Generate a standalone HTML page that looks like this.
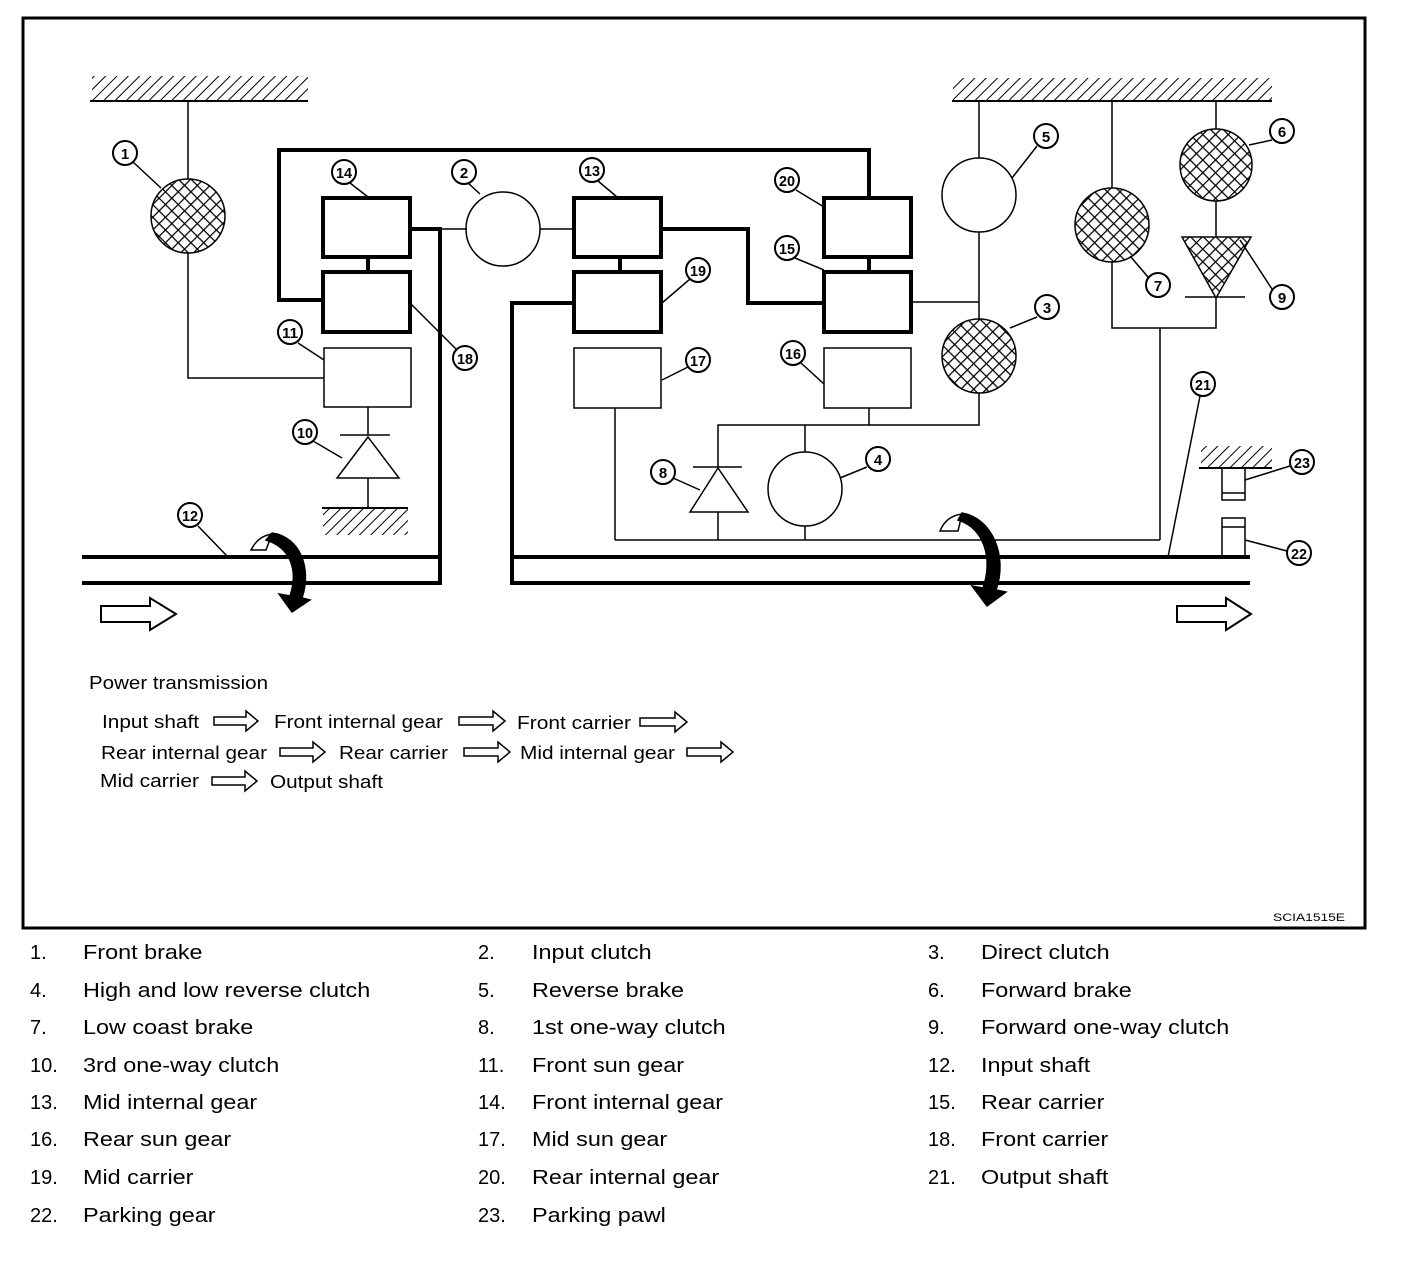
<!DOCTYPE html>
<html><head><meta charset="utf-8"><style>
html,body{margin:0;padding:0;background:#fff}
svg{display:block}
text{font-family:"Liberation Sans",sans-serif;fill:#000}
.lb{font-weight:bold;font-size:15px;text-anchor:middle}
</style></head><body>
<svg width="1408" height="1282" viewBox="0 0 1408 1282" xmlns="http://www.w3.org/2000/svg">
<defs>
<pattern id="hatch" width="8" height="8" patternUnits="userSpaceOnUse" patternTransform="rotate(45)">
<line x1="0" y1="0" x2="0" y2="8" stroke="#000" stroke-width="2"/></pattern>
<pattern id="cross" width="9" height="9" patternUnits="userSpaceOnUse" patternTransform="rotate(45)">
<rect width="9" height="9" fill="#fff"/>
<line x1="0" y1="0" x2="0" y2="9" stroke="#000" stroke-width="2.5"/>
<line x1="0" y1="0" x2="9" y2="0" stroke="#000" stroke-width="2.5"/></pattern>
</defs>
<rect x="23" y="18" width="1342" height="910" fill="none" stroke="#000" stroke-width="3"/>

<g stroke="#000" fill="none">
<rect x="92" y="76" width="216" height="25" fill="url(#hatch)" stroke="none"/>
<line x1="90" y1="101" x2="308" y2="101" stroke-width="2"/>
<rect x="953" y="78" width="319" height="23" fill="url(#hatch)" stroke="none"/>
<line x1="952" y1="101" x2="1272" y2="101" stroke-width="2"/>
<rect x="323" y="509" width="85" height="26" fill="url(#hatch)" stroke="none"/>
<line x1="322" y1="508" x2="408" y2="508" stroke-width="2"/>
<rect x="1201" y="446" width="71" height="21" fill="url(#hatch)" stroke="none"/>
<line x1="1199" y1="468" x2="1272" y2="468" stroke-width="2"/>

<g stroke-width="1.5">
<polyline points="188,101 188,378 324,378"/>
<line x1="368" y1="407" x2="368" y2="435"/>
<line x1="340" y1="435" x2="390" y2="435"/>
<polygon points="368,437 337,478 399,478"/>
<line x1="368" y1="478" x2="368" y2="508"/>
<line x1="440" y1="229" x2="467" y2="229"/>
<line x1="540" y1="229" x2="574" y2="229"/>
<line x1="615" y1="408" x2="615" y2="540"/>
<line x1="615" y1="540" x2="1160" y2="540"/>
<line x1="869" y1="408" x2="869" y2="425"/>
<polyline points="911,302 979,302"/>
<line x1="979" y1="101" x2="979" y2="158"/>
<line x1="979" y1="232" x2="979" y2="320"/>
<polyline points="979,393 979,425 718,425 718,467"/>
<line x1="693" y1="467" x2="742" y2="467"/>
<polygon points="718,468 690,512 748,512"/>
<line x1="718" y1="512" x2="718" y2="540"/>
<line x1="805" y1="425" x2="805" y2="452"/>
<line x1="805" y1="526" x2="805" y2="540"/>
<polyline points="1112,101 1112,188"/>
<polyline points="1112,262 1112,328 1216,328 1216,298"/>
<line x1="1216" y1="101" x2="1216" y2="129"/>
<line x1="1216" y1="201" x2="1216" y2="238"/>
<line x1="1185" y1="297" x2="1245" y2="297"/>
<polyline points="1160,328 1160,540"/>
<rect x="324" y="348" width="87" height="59"/>
<rect x="574" y="348" width="87" height="60"/>
<rect x="824" y="348" width="87" height="60"/>
<circle cx="503" cy="229" r="37"/>
<circle cx="979" cy="195" r="37"/>
<circle cx="805" cy="489" r="37"/>
<rect x="1222" y="468" width="23" height="32"/>
<line x1="1222" y1="493" x2="1245" y2="493"/>
<rect x="1222" y="518" width="23" height="39"/>
<line x1="1222" y1="527" x2="1245" y2="527"/>
</g>
<g stroke-width="1.5" fill="url(#cross)">
<circle cx="188" cy="216" r="37"/>
<circle cx="979" cy="356" r="37"/>
<circle cx="1112" cy="225" r="37"/>
<circle cx="1216" cy="165" r="36"/>
<polygon points="1182,237 1251,237 1216,298"/>
</g>

<g stroke-width="4">
<polyline points="323,300 279,300 279,150 869,150 869,198"/>
<rect x="323" y="198" width="87" height="59"/>
<rect x="323" y="272" width="87" height="60"/>
<line x1="368" y1="257" x2="368" y2="272"/>
<polyline points="410,229 440,229 440,583 82,583"/>
<line x1="82" y1="557" x2="440" y2="557"/>
<rect x="574" y="198" width="87" height="59"/>
<rect x="574" y="272" width="87" height="60"/>
<line x1="620" y1="257" x2="620" y2="272"/>
<polyline points="574,303 512,303 512,583 1250,583"/>
<line x1="512" y1="557" x2="1250" y2="557"/>
<polyline points="661,229 748,229 748,303 824,303"/>
<rect x="824" y="198" width="87" height="59"/>
<rect x="824" y="272" width="87" height="60"/>
<line x1="869" y1="257" x2="869" y2="272"/>
</g>

<g stroke-width="1.5">
<line x1="133" y1="162" x2="161" y2="188"/>
<line x1="350" y1="183" x2="368" y2="197"/>
<line x1="468" y1="183" x2="480" y2="194"/>
<line x1="598" y1="181" x2="617" y2="197"/>
<line x1="796" y1="190" x2="824" y2="207"/>
<line x1="795" y1="258" x2="824" y2="270"/>
<line x1="690" y1="279" x2="662" y2="303"/>
<line x1="688" y1="367" x2="662" y2="380"/>
<line x1="801" y1="363" x2="824" y2="384"/>
<line x1="298" y1="343" x2="324" y2="360"/>
<line x1="456" y1="349" x2="410" y2="303"/>
<line x1="313" y1="441" x2="342" y2="458"/>
<line x1="198" y1="526" x2="228" y2="557"/>
<line x1="673" y1="478" x2="700" y2="490"/>
<line x1="867" y1="467" x2="840" y2="478"/>
<line x1="1037" y1="146" x2="1012" y2="178"/>
<line x1="1037" y1="317" x2="1010" y2="328"/>
<line x1="1272" y1="140" x2="1249" y2="145"/>
<line x1="1148" y1="277" x2="1130" y2="256"/>
<line x1="1272" y1="289" x2="1240" y2="240"/>
<line x1="1200" y1="396" x2="1168" y2="557"/>
<line x1="1290" y1="466" x2="1245" y2="480"/>
<line x1="1287" y1="551" x2="1245" y2="540"/>
</g>

<g stroke-width="2" fill="#fff">
<path d="M101,606 H150 V598 L176,614 L150,630 V622 H101 Z"/>
<path d="M1177,606 H1226 V598 L1251,614 L1226,630 V622 H1177 Z"/>
</g>
<g stroke-width="1.5" fill="#fff">
<path d="M214,717 H246 V711 L258,721 L246,731 V725 H214 Z"/>
<path d="M459,717 H493 V711 L505,721 L493,731 V725 H459 Z"/>
<path d="M640,718 H675 V712 L687,722 L675,732 V726 H640 Z"/>
<path d="M280,748 H313 V742 L325,752 L313,762 V756 H280 Z"/>
<path d="M464,748 H498 V742 L510,752 L498,762 V756 H464 Z"/>
<path d="M687,748 H721 V742 L733,752 L721,762 V756 H687 Z"/>
<path d="M212,777 H245 V771 L257,781 L245,791 V785 H212 Z"/>
</g>
<g stroke-width="1.5">
<path d="M251,550 Q258,536 272,534 L266,550 Z" fill="#fff"/>
<path d="M272,533 C300,537 312,568 302,598 L310,600 L292,612 L279,594 L290,596 C298,572 292,548 266,540 Z" fill="#000"/>
<path d="M940,531 Q946,516 962,514 L958,531 Z" fill="#fff"/>
<path d="M962,513 C992,518 1008,556 996,590 L1006,592 L987,606 L972,586 L983,588 C993,560 985,528 958,520 Z" fill="#000"/>
</g>
</g>

<g fill="#fff" stroke="#000" stroke-width="2">
<circle cx="125" cy="153" r="12"/><circle cx="344" cy="172" r="12"/><circle cx="464" cy="172" r="12"/>
<circle cx="592" cy="170" r="12"/><circle cx="787" cy="180" r="12"/><circle cx="787" cy="248" r="12"/>
<circle cx="698" cy="270" r="12"/><circle cx="698" cy="360" r="12"/><circle cx="793" cy="353" r="12"/>
<circle cx="290" cy="332" r="12"/><circle cx="465" cy="358" r="12"/><circle cx="305" cy="432" r="12"/>
<circle cx="190" cy="515" r="12"/><circle cx="663" cy="472" r="12"/><circle cx="878" cy="459" r="12"/>
<circle cx="1046" cy="136" r="12"/><circle cx="1047" cy="307" r="12"/><circle cx="1282" cy="131" r="12"/>
<circle cx="1158" cy="285" r="12"/><circle cx="1282" cy="297" r="12"/><circle cx="1203" cy="384" r="12"/>
<circle cx="1302" cy="462" r="12"/><circle cx="1299" cy="553" r="12"/>
</g>
<g class="lb">
<text x="125" y="159" class="lb">1</text><text x="344" y="178" class="lb" textLength="16" lengthAdjust="spacingAndGlyphs">14</text>
<text x="464" y="178" class="lb">2</text><text x="592" y="176" class="lb" textLength="16" lengthAdjust="spacingAndGlyphs">13</text>
<text x="787" y="186" class="lb" textLength="16" lengthAdjust="spacingAndGlyphs">20</text><text x="787" y="254" class="lb" textLength="16" lengthAdjust="spacingAndGlyphs">15</text>
<text x="698" y="276" class="lb" textLength="16" lengthAdjust="spacingAndGlyphs">19</text><text x="698" y="366" class="lb" textLength="16" lengthAdjust="spacingAndGlyphs">17</text>
<text x="793" y="359" class="lb" textLength="16" lengthAdjust="spacingAndGlyphs">16</text><text x="290" y="338" class="lb" textLength="16" lengthAdjust="spacingAndGlyphs">11</text>
<text x="465" y="364" class="lb" textLength="16" lengthAdjust="spacingAndGlyphs">18</text><text x="305" y="438" class="lb" textLength="16" lengthAdjust="spacingAndGlyphs">10</text>
<text x="190" y="521" class="lb" textLength="16" lengthAdjust="spacingAndGlyphs">12</text><text x="663" y="478" class="lb">8</text>
<text x="878" y="465" class="lb">4</text><text x="1046" y="142" class="lb">5</text><text x="1047" y="313" class="lb">3</text>
<text x="1282" y="137" class="lb">6</text><text x="1158" y="291" class="lb">7</text><text x="1282" y="303" class="lb">9</text>
<text x="1203" y="390" class="lb" textLength="16" lengthAdjust="spacingAndGlyphs">21</text>
<text x="1302" y="468" class="lb" textLength="16" lengthAdjust="spacingAndGlyphs">23</text>
<text x="1299" y="559" class="lb" textLength="16" lengthAdjust="spacingAndGlyphs">22</text>
</g>

<g font-size="18">
<text x="89" y="689" textLength="179" lengthAdjust="spacingAndGlyphs">Power transmission</text>
<text x="102" y="728" textLength="97" lengthAdjust="spacingAndGlyphs">Input shaft</text>
<text x="274" y="728" textLength="169" lengthAdjust="spacingAndGlyphs">Front internal gear</text>
<text x="517" y="729" textLength="114" lengthAdjust="spacingAndGlyphs">Front carrier</text>
<text x="101" y="759" textLength="166" lengthAdjust="spacingAndGlyphs">Rear internal gear</text>
<text x="339" y="759" textLength="109" lengthAdjust="spacingAndGlyphs">Rear carrier</text>
<text x="520" y="759" textLength="155" lengthAdjust="spacingAndGlyphs">Mid internal gear</text>
<text x="100" y="787" textLength="99" lengthAdjust="spacingAndGlyphs">Mid carrier</text>
<text x="270" y="788" textLength="113" lengthAdjust="spacingAndGlyphs">Output shaft</text>
</g>
<text x="1273" y="921" font-size="11" textLength="72" lengthAdjust="spacingAndGlyphs">SCIA1515E</text>

<g font-size="20">
<text x="30" y="959">1.</text><text x="478" y="959">2.</text><text x="928" y="959">3.</text>
<text x="30" y="997">4.</text><text x="478" y="997">5.</text><text x="928" y="997">6.</text>
<text x="30" y="1034">7.</text><text x="478" y="1034">8.</text><text x="928" y="1034">9.</text>
<text x="30" y="1072">10.</text><text x="478" y="1072">11.</text><text x="928" y="1072">12.</text>
<text x="30" y="1109">13.</text><text x="478" y="1109">14.</text><text x="928" y="1109">15.</text>
<text x="30" y="1146">16.</text><text x="478" y="1146">17.</text><text x="928" y="1146">18.</text>
<text x="30" y="1184">19.</text><text x="478" y="1184">20.</text><text x="928" y="1184">21.</text>
<text x="30" y="1222">22.</text><text x="478" y="1222">23.</text>
</g>
<g font-size="20" transform="translate(83,0) scale(1.17,1)">
<text x="0" y="959">Front brake</text>
<text x="0" y="997">High and low reverse clutch</text>
<text x="0" y="1034">Low coast brake</text>
<text x="0" y="1072">3rd one-way clutch</text>
<text x="0" y="1109">Mid internal gear</text>
<text x="0" y="1146">Rear sun gear</text>
<text x="0" y="1184">Mid carrier</text>
<text x="0" y="1222">Parking gear</text>
</g>
<g font-size="20" transform="translate(532,0) scale(1.17,1)">
<text x="0" y="959">Input clutch</text>
<text x="0" y="997">Reverse brake</text>
<text x="0" y="1034">1st one-way clutch</text>
<text x="0" y="1072">Front sun gear</text>
<text x="0" y="1109">Front internal gear</text>
<text x="0" y="1146">Mid sun gear</text>
<text x="0" y="1184">Rear internal gear</text>
<text x="0" y="1222">Parking pawl</text>
</g>
<g font-size="20" transform="translate(981,0) scale(1.17,1)">
<text x="0" y="959">Direct clutch</text>
<text x="0" y="997">Forward brake</text>
<text x="0" y="1034">Forward one-way clutch</text>
<text x="0" y="1072">Input shaft</text>
<text x="0" y="1109">Rear carrier</text>
<text x="0" y="1146">Front carrier</text>
<text x="0" y="1184">Output shaft</text>
</g>
</svg>
</body></html>
